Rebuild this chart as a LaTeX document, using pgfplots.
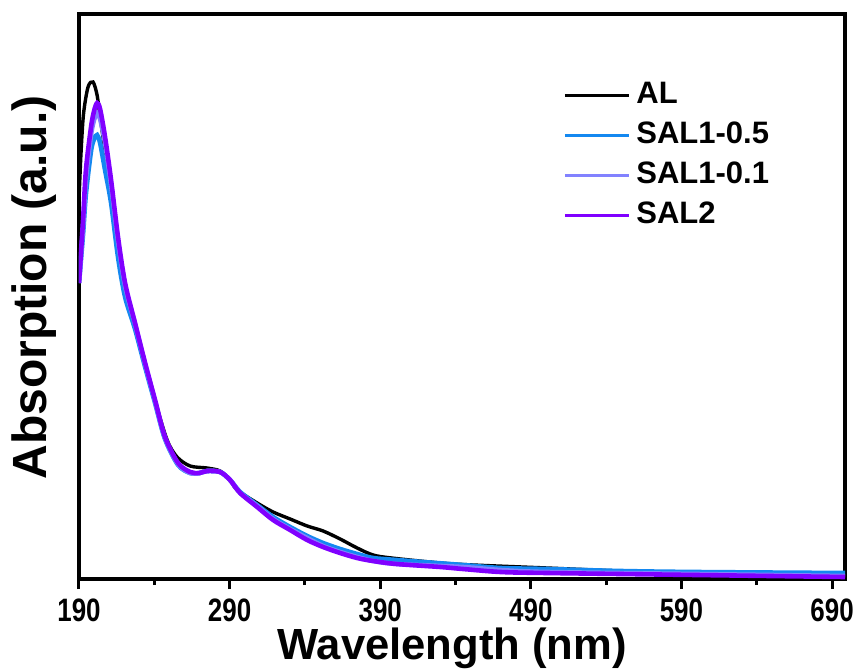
\documentclass[border=0pt]{standalone}
\usepackage{fontspec}
\setmainfont{Liberation Sans}
\newfontfamily\narrowfont[FakeStretch=0.8]{Liberation Sans}
\usepackage{pgfplots}
\pgfplotsset{compat=1.18}
\definecolor{cAL}{RGB}{0,0,0}
\definecolor{cB}{RGB}{20,136,240}
\definecolor{cL}{RGB}{130,130,255}
\definecolor{cV}{RGB}{128,0,255}
\begin{document}
\begin{tikzpicture}
\begin{axis}[
  scale only axis, width=383pt, height=282.5pt,
  xmin=190, xmax=698.6, ymin=0, ymax=565,
  xtick={190,290,390,490,590,690},
  xticklabels={190,290,390,490,590,690},
  minor x tick num=1,
  ytick=\empty,
  xtick pos=lower,
  tick align=outside,
  major tick length=5pt, minor tick length=3pt,
  every tick/.style={line width=1.5pt, black},
  axis line style={line width=2pt},
  xticklabel style={font=\narrowfont\bfseries\fontsize{16.2}{17}\selectfont, anchor=base, yshift=-16.3pt, inner sep=0pt},
  xlabel={Wavelength (nm)},
  ylabel={Absorption (a.u.)},
  xlabel style={font=\bfseries\fontsize{21.8}{24}\selectfont, at={(axis description cs:0.487,-0.143)}, anchor=base, inner sep=0pt},
  ylabel style={font=\bfseries\fontsize{24}{26}\selectfont, at={(axis description cs:-0.0418,0.516)}, anchor=base, rotate=0, inner sep=0pt},
  legend style={at={(rel axis cs:0.624,0.889)}, anchor=north west, draw=none, fill=none,
    font=\bfseries\fontsize{15.5}{18}\selectfont, row sep=6pt, column sep=3pt,
    nodes={text height=11pt, text depth=3pt, inner sep=0pt}},
  legend cell align=left,
  legend image code/.code={\draw[#1, line width=1.5pt] (0pt,0pt) -- (32pt,0pt);},
]
\addplot[cAL, line width=1.7pt, smooth] coordinates {
(190,380) (191.3,425) (193,465) (196,492) (199.3,497) (202,484) (204,462) (207.3,428)
(211.3,385) (215.9,333) (220.6,290) (227.2,252) (233.9,213) (240.5,178) (248.5,139)
(255.1,122) (263.8,113) (275,111) (283.7,108) (290.3,99) (295,89) (308.3,76) (318.9,67)
(330.2,60) (341.5,53) (352.1,48) (363.4,40) (374.7,31) (385.3,24) (397.6,21) (430,16)
(452,14) (501,11) (550,8) (600,6) (698.6,3)};
\addlegendentry{AL}
\addplot[cB, line width=2.3pt, smooth] coordinates {
(190,296) (192.7,345) (194.6,385) (198,428) (200,440) (202,444) (204,436) (207.3,409)
(211.3,376) (215.9,322) (220.6,282) (227.2,250) (233.9,212) (240.5,176) (247.1,140)
(255.8,114) (263.8,106) (270,106) (275,108) (283.7,107) (290.3,99) (297,87) (308.3,74)
(318.9,62) (330.2,52) (341.5,43) (352.1,36) (363.4,30) (374.7,25) (385.3,21) (401,19)
(445,14) (470,11) (501,10) (550,8) (600,7) (698.6,6)};
\addlegendentry{SAL1-0.5}
\addplot[cL, line width=2.3pt, smooth] coordinates {
(190,296) (192.7,352) (194.6,400) (198,444) (200,459) (202,466) (204,460) (207.3,436)
(211.3,394) (215.9,338) (220.6,293) (227.2,255) (233.9,215) (240.5,178) (247.1,141)
(255.8,115) (263.8,106) (270,106) (275,108) (283.7,107) (290.3,99) (297,86) (308.3,73)
(318.9,60) (330.2,50) (341.5,41) (352.1,33) (363.4,27) (374.7,22) (385.3,18) (401,15)
(445,12) (470,9) (501,7) (600,5) (698.6,3)};
\addlegendentry{SAL1-0.1}
\addplot[cV, line width=2.3pt, smooth] coordinates {
(190,296) (192.7,359) (194.6,409) (198,452) (200,468) (202,476) (204,470) (207.3,442)
(211.3,399) (215.9,342) (220.6,296) (227.2,256) (233.9,216) (240.5,179) (247.1,142)
(255.8,116) (263.8,107) (270,106) (275,108) (283.7,107) (290.3,99) (297,86) (308.3,72)
(318.9,59) (330.2,49) (341.5,39) (352.1,32) (363.4,26) (374.7,21) (385.3,18) (401,15)
(430,12) (445,10) (470,7) (501,6) (600,4) (698.6,2)};
\addlegendentry{SAL2}
\end{axis}
\path ([xshift=-39.5pt,yshift=-45.5pt]current axis.south west) rectangle ([xshift=5pt,yshift=7pt]current axis.north east);
\end{tikzpicture}
\end{document}
